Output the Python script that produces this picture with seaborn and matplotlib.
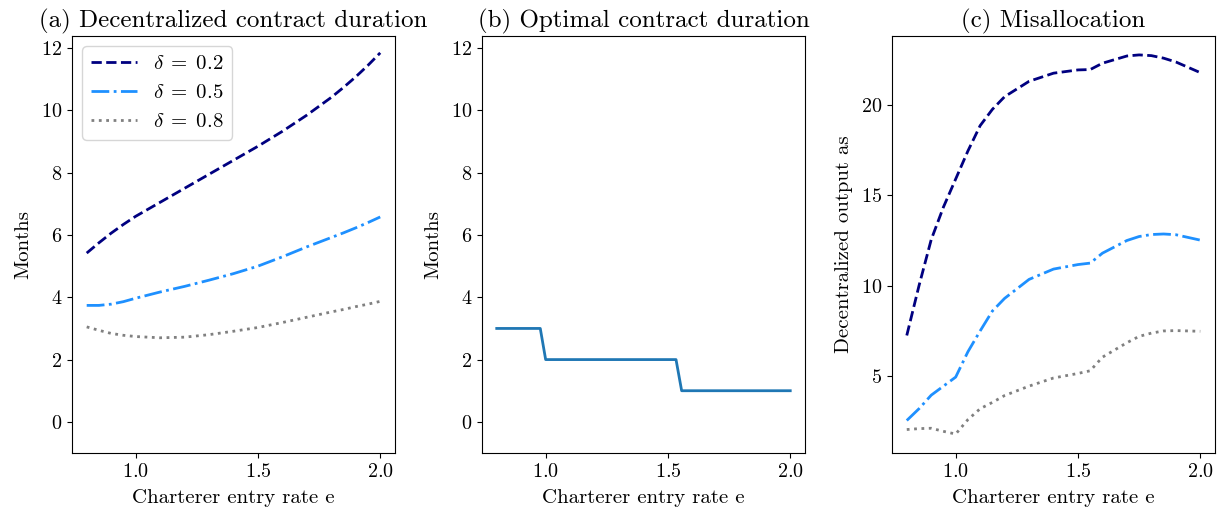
import matplotlib
matplotlib.use("Agg")
import matplotlib.pyplot as plt
import pandas as pd
import seaborn as sns

# Charterer entry rate grid
entry_rate = [0.8, 0.85, 0.9, 0.95, 1.0, 1.1, 1.2, 1.3, 1.4, 1.5, 1.6, 1.7, 1.8,
              1.85, 1.9, 1.95, 2.0]

# (a) decentralized contract duration, months
dur_d02 = [5.42, 5.75, 6.06, 6.34, 6.6, 7.05, 7.5, 7.95, 8.4, 8.85, 9.33, 9.85, 10.42,
           10.74, 11.08, 11.45, 11.85]
dur_d05 = [3.74, 3.74, 3.78, 3.86, 3.97, 4.17, 4.35, 4.55, 4.76, 5.0, 5.3, 5.62, 5.92,
           6.07, 6.23, 6.4, 6.58]
dur_d08 = [3.05, 2.94, 2.84, 2.78, 2.74, 2.70, 2.72, 2.80, 2.91, 3.03, 3.19, 3.36, 3.53,
           3.61, 3.70, 3.78, 3.87]

# (b) optimal contract duration, months
opt_rate = [0.8, 0.978, 1.0, 1.533, 1.556, 2.0]
opt_months = [3, 3, 2, 2, 1, 1]

# (c) misallocation
mis_rate = [0.8, 0.85, 0.9, 0.95, 1.0, 1.05, 1.1, 1.15, 1.2, 1.3, 1.4, 1.5, 1.55,
            1.6, 1.7, 1.75, 1.8, 1.85, 1.9, 2.0]
mis_d02 = [7.25, 10.0, 12.55, 14.35, 15.9, 17.45, 18.85, 19.75, 20.45, 21.3, 21.75,
           21.93, 21.95, 22.3, 22.7, 22.76, 22.72, 22.58, 22.37, 21.78]
mis_d05 = [2.55, 3.2, 3.95, 4.45, 4.95, 6.35, 7.5, 8.6, 9.3, 10.35, 10.92, 11.17, 11.25,
           11.8, 12.5, 12.72, 12.83, 12.86, 12.82, 12.52]
mis_d08 = [2.05, 2.1, 2.12, 1.95, 1.8, 2.6, 3.2, 3.55, 3.93, 4.45, 4.9, 5.15, 5.3,
           6.05, 6.85, 7.2, 7.38, 7.5, 7.52, 7.48]

deltas = ["0.2", "0.5", "0.8"]
colors = ["navy", "dodgerblue", "gray"]
styles = ["--", "-.", ":"]

plt.rcParams.update({
    "font.family": "serif",
    "font.serif": ["cmr10", "DejaVu Serif"],
    "mathtext.fontset": "cm",
    "axes.formatter.use_mathtext": True,
    "axes.unicode_minus": False,
    "xtick.labelsize": 14.5,
    "ytick.labelsize": 14.5,
    "axes.labelsize": 15,
    "axes.titlesize": 18,
    "legend.fontsize": 15,
    "axes.labelpad": 6,
})

fig, axes = plt.subplots(1, 3, figsize=(12.25, 5.21), dpi=100)
fig.subplots_adjust(left=0.0588, right=0.9918, bottom=0.1305, top=0.931, wspace=0.27)
ax_a, ax_b, ax_c = axes
ax_b.sharey(ax_a)

for d, c, ls, ys in zip(deltas, colors, styles, [dur_d02, dur_d05, dur_d08]):
    df = pd.DataFrame({"e": entry_rate, "m": ys})
    sns.lineplot(data=df, x="e", y="m", ax=ax_a, color=c, linestyle=ls, lw=2,
                 label=rf"$\delta \;=\; {d}$")

df_opt = pd.DataFrame({"e": opt_rate, "m": opt_months})
sns.lineplot(data=df_opt, x="e", y="m", ax=ax_b, color="#1f77b4", lw=2)

for d, c, ls, ys in zip(deltas, colors, styles, [mis_d02, mis_d05, mis_d08]):
    df = pd.DataFrame({"e": mis_rate, "v": ys})
    sns.lineplot(data=df, x="e", y="v", ax=ax_c, color=c, linestyle=ls, lw=2)

ax_a.set_ylim(bottom=-1)
ax_a.legend(loc="upper left", handlelength=2.2)

ax_a.set_title("(a) Decentralized contract duration")
ax_b.set_title("(b) Optimal contract duration")
ax_c.set_title("(c) Misallocation")
for ax in (ax_a, ax_b):
    ax.set_ylabel("Months")
ax_c.set_ylabel("Decentralized output as")
for ax in axes:
    ax.set_xlabel("Charterer entry rate e")
    ax.set_xticks([1.0, 1.5, 2.0])
ax_c.set_yticks([5, 10, 15, 20])

fig.savefig("out.png", dpi=100)
